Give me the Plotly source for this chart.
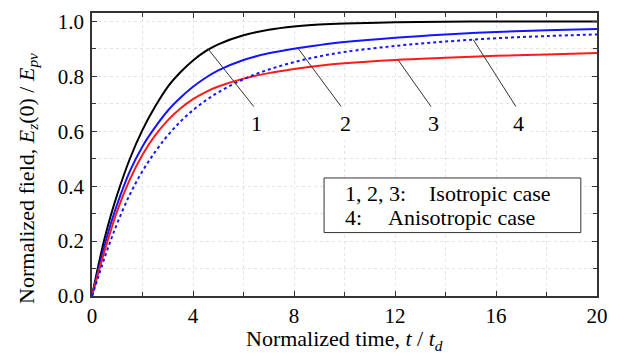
import plotly.graph_objects as go

# ---- data ----
t = [0, 0.25, 0.5, 0.75, 1, 1.5, 2, 2.5, 3, 3.5, 4, 4.5, 5, 6, 7, 8, 9, 10, 12, 14, 16, 18, 20]
curve1 = [0, 0.11, 0.21, 0.295, 0.37, 0.50, 0.605, 0.69, 0.762, 0.815, 0.858, 0.892, 0.917,
          0.950, 0.970, 0.982, 0.989, 0.993, 0.997, 0.999, 1.0, 1.0, 1.0]
curve2 = [0, 0.095, 0.185, 0.265, 0.335, 0.455, 0.545, 0.615, 0.675, 0.722, 0.762, 0.795, 0.822,
          0.860, 0.884, 0.901, 0.914, 0.925, 0.941, 0.953, 0.962, 0.968, 0.973]
curve3 = [0, 0.085, 0.165, 0.24, 0.31, 0.425, 0.515, 0.585, 0.64, 0.683, 0.717, 0.743, 0.763,
          0.792, 0.812, 0.827, 0.839, 0.848, 0.860, 0.868, 0.875, 0.880, 0.885]
curve4 = [0, 0.07, 0.14, 0.205, 0.265, 0.37, 0.455, 0.525, 0.585, 0.635, 0.677, 0.712, 0.742,
          0.790, 0.825, 0.852, 0.873, 0.889, 0.911, 0.927, 0.939, 0.947, 0.953]

label_text = ["1", "2", "3", "4"]
leader_x0 = [4.59, 8.17, 12.13, 15.10]
leader_y0 = [0.901, 0.901, 0.859, 0.934]
leader_x1 = [6.46, 9.95, 13.45, 16.81]
leader_y1 = [0.684, 0.680, 0.687, 0.687]
label_x = [6.53, 10.05, 13.51, 16.88]
label_y = [0.63, 0.63, 0.63, 0.63]

x_ticks = [0, 4, 8, 12, 16, 20]
y_ticks = [0.0, 0.2, 0.4, 0.6, 0.8, 1.0]

x_title = "Normalized time, <i>t</i> / <i>t</i><sub><i>d</i></sub>"
y_title = "Normalized field, <i>E</i><sub><i>z</i></sub>(0) / <i>E</i><sub><i>pv</i></sub>"

FONT = "Liberation Serif, DejaVu Serif, serif"
fig = go.Figure()

styles = [
    (curve1, "black", "solid"),
    (curve2, "#1414ff", "solid"),
    (curve3, "#ff1a1a", "solid"),
    (curve4, "#1414ff", "dot"),
]
for ys, col, dash in styles:
    fig.add_trace(go.Scatter(x=t, y=ys, mode="lines",
                             line=dict(color=col, width=2, dash=dash, shape="spline", smoothing=1),
                             showlegend=False, hoverinfo="skip"))

for i in range(4):
    fig.add_trace(go.Scatter(x=[leader_x0[i], leader_x1[i]], y=[leader_y0[i], leader_y1[i]],
                             mode="lines", line=dict(color="#333333", width=1),
                             showlegend=False, hoverinfo="skip"))
    fig.add_annotation(x=label_x[i], y=label_y[i], text=label_text[i], showarrow=False,
                       font=dict(family=FONT, size=22, color="black"),
                       bgcolor="white", borderpad=4)

# legend-like box
fig.add_shape(type="rect", x0=9.19, x1=19.36, y0=0.231, y1=0.43,
              line=dict(color="#333333", width=1), fillcolor="white", layer="above")
box_font = dict(family=FONT, size=22, color="black")
fig.add_annotation(x=9.94, y=0.372, text="1, 2, 3:", showarrow=False, xanchor="left", font=box_font)
fig.add_annotation(x=13.25, y=0.372, text="Isotropic case", showarrow=False, xanchor="left", font=box_font)
fig.add_annotation(x=9.94, y=0.285, text="4:", showarrow=False, xanchor="left", font=box_font)
fig.add_annotation(x=11.64, y=0.285, text="Anisotropic case", showarrow=False, xanchor="left", font=box_font)

# axis titles as annotations for precise placement
fig.add_annotation(xref="paper", yref="paper", x=0.5, y=-0.155, text=x_title, showarrow=False,
                   xanchor="center", yanchor="middle", font=dict(family=FONT, size=22, color="black"))
fig.add_annotation(xref="paper", yref="paper", x=-0.128, y=0.415, text=y_title, showarrow=False,
                   textangle=-90, xanchor="center", yanchor="middle",
                   font=dict(family=FONT, size=22, color="black"))

grid = dict(gridcolor="#e4e4e4", griddash="dot", gridwidth=1)
fig.update_xaxes(range=[0, 20], tickvals=x_ticks, ticktext=[str(v) for v in x_ticks],
                 ticks="inside", ticklen=5, tickcolor="#333", showline=True, linecolor="#333",
                 linewidth=1.5, mirror="ticks", showgrid=True, zeroline=False,
                 minor=dict(dtick=2, tick0=0, ticks="inside", ticklen=4, tickcolor="#333", showgrid=True, **grid),
                 tickfont=dict(family=FONT, size=21, color="black"),
                 **grid)
fig.update_yaxes(range=[0, 1.031], tickvals=y_ticks, ticktext=[f"{v:.1f}" for v in y_ticks],
                 ticks="inside", ticklen=5, tickcolor="#333", showline=True, linecolor="#333",
                 linewidth=1.5, mirror="ticks", showgrid=True, zeroline=False,
                 minor=dict(dtick=0.1, tick0=0, ticks="inside", ticklen=4, tickcolor="#333", showgrid=True, **grid),
                 tickfont=dict(family=FONT, size=21, color="black"), ticklabelstandoff=2,
                 **grid)

fig.update_layout(width=618, height=345, margin=dict(l=84, r=29, t=3, b=57),
                  plot_bgcolor="white", paper_bgcolor="white")
fig.write_html("out.html")
